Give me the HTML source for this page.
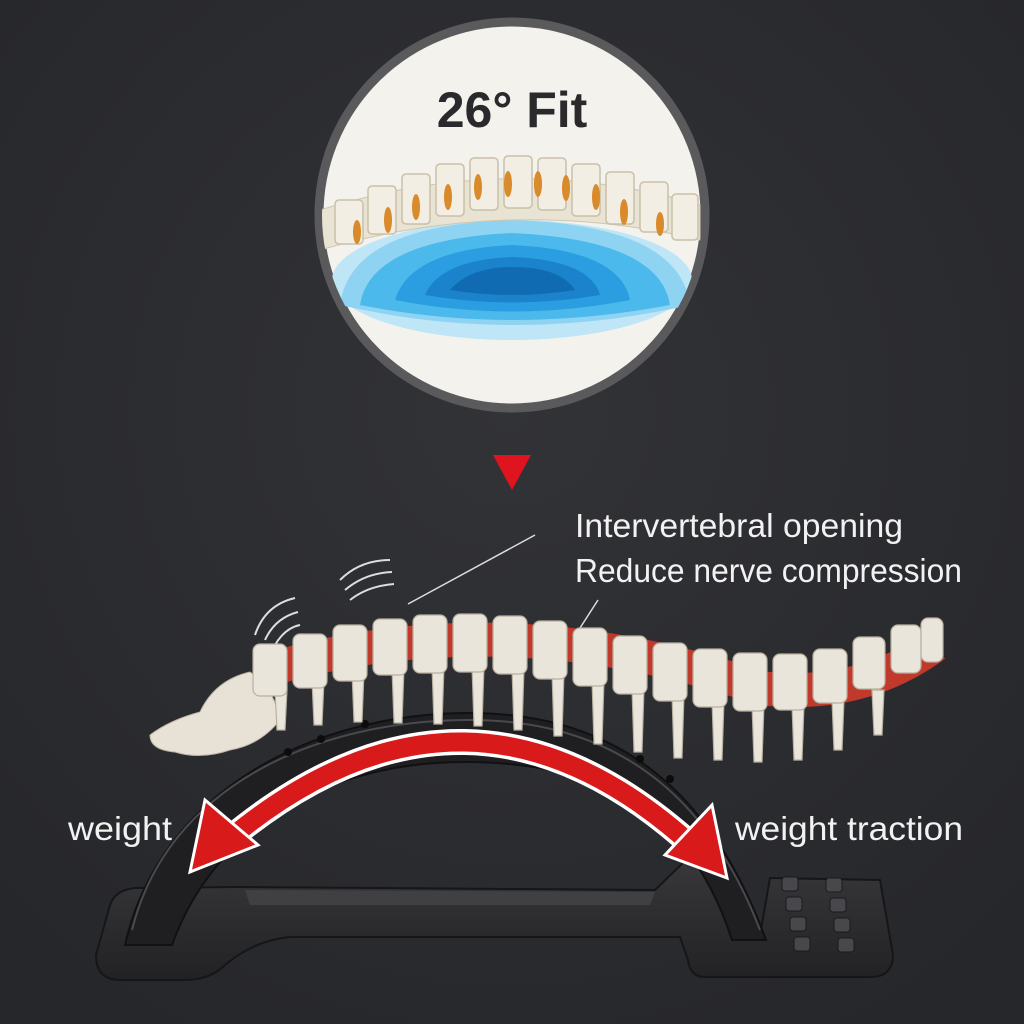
<!DOCTYPE html>
<html><head><meta charset="utf-8">
<style>
html,body{margin:0;padding:0;background:#2b2c30;}
svg{display:block}
text{font-family:"Liberation Sans",sans-serif;}
</style></head>
<body>
<svg width="1024" height="1024" viewBox="0 0 1024 1024" xmlns="http://www.w3.org/2000/svg">
<defs>
<radialGradient id="bg" cx="50%" cy="40%" r="70%"><stop offset="0" stop-color="#323337"/><stop offset="1" stop-color="#26272b"/></radialGradient>
<clipPath id="cc"><circle cx="512" cy="215" r="190"/></clipPath>
<linearGradient id="dev" x1="0" y1="0" x2="0" y2="1"><stop offset="0" stop-color="#38383b"/><stop offset="1" stop-color="#222224"/></linearGradient>
</defs>
<rect width="1024" height="1024" fill="url(#bg)"/>

<!-- circle -->
<circle cx="512" cy="215" r="193" fill="#f4f2ed" stroke="#5a5a5c" stroke-width="9"/>
<g clip-path="url(#cc)">
  <ellipse cx="512" cy="280" rx="180" ry="60" fill="#bfe6f7"/>
  <path d="M340,305 Q350,225 512,220 Q680,225 690,305 Q512,345 340,305Z" fill="#8fd3f2"/>
  <path d="M360,305 Q370,240 512,233 Q660,240 670,305 Q512,335 360,305Z" fill="#4cb9ec"/>
  <path d="M395,300 Q410,250 512,245 Q620,250 630,300 Q512,323 395,300Z" fill="#2a9ee0"/>
  <path d="M425,295 Q440,260 512,257 Q590,260 600,295 Q512,310 425,295Z" fill="#1a83cc"/>
  <path d="M450,290 Q470,267 512,267 Q560,267 575,290 Q512,300 450,290Z" fill="#106bb2"/>
  <path d="M320,210 Q512,150 700,205 L700,240 Q512,195 320,250Z" fill="#e9e3d4" stroke="#cfc6b1"/>
  <g fill="#f3eee3" stroke="#c9c0aa" stroke-width="1.5">
    <rect x="335" y="200" width="28" height="44" rx="4"/>
    <rect x="368" y="186" width="28" height="48" rx="4"/>
    <rect x="402" y="174" width="28" height="50" rx="4"/>
    <rect x="436" y="164" width="28" height="52" rx="4"/>
    <rect x="470" y="158" width="28" height="52" rx="4"/>
    <rect x="504" y="156" width="28" height="52" rx="4"/>
    <rect x="538" y="158" width="28" height="52" rx="4"/>
    <rect x="572" y="164" width="28" height="52" rx="4"/>
    <rect x="606" y="172" width="28" height="52" rx="4"/>
    <rect x="640" y="182" width="28" height="50" rx="4"/>
    <rect x="672" y="194" width="26" height="46" rx="4"/>
  </g>
  <g fill="#d98a2b">
    <ellipse cx="357" cy="232" rx="4" ry="12"/><ellipse cx="388" cy="220" rx="4" ry="13"/>
    <ellipse cx="416" cy="207" rx="4" ry="13"/><ellipse cx="448" cy="197" rx="4" ry="13"/>
    <ellipse cx="478" cy="187" rx="4" ry="13"/><ellipse cx="508" cy="184" rx="4" ry="13"/>
    <ellipse cx="538" cy="184" rx="4" ry="13"/><ellipse cx="566" cy="188" rx="4" ry="13"/>
    <ellipse cx="596" cy="197" rx="4" ry="13"/><ellipse cx="624" cy="212" rx="4" ry="13"/>
    <ellipse cx="660" cy="224" rx="4" ry="12"/>
  </g>
</g>
<text x="512" y="127" text-anchor="middle" font-size="50" font-weight="bold" fill="#2a2a2c">26° Fit</text>

<polygon points="493,455 531,455 512,490" fill="#e0141e"/>

<text x="575" y="537" font-size="33" fill="#f2f2f2" textLength="328" lengthAdjust="spacingAndGlyphs">Intervertebral opening</text>
<text x="575" y="582" font-size="33" fill="#f2f2f2" textLength="387" lengthAdjust="spacingAndGlyphs">Reduce nerve compression</text>
<text x="68" y="840" font-size="33" fill="#f2f2f2" textLength="104" lengthAdjust="spacingAndGlyphs">weight</text>
<text x="735" y="840" font-size="33" fill="#f2f2f2" textLength="228" lengthAdjust="spacingAndGlyphs">weight traction</text>
<line x1="408" y1="604" x2="535" y2="535" stroke="#ddd" stroke-width="1.5"/>
<line x1="580" y1="628" x2="598" y2="600" stroke="#ddd" stroke-width="1.5"/>
<g fill="none" stroke="#ddd" stroke-width="2">
  <path d="M255,635 Q265,605 295,598"/><path d="M265,640 Q275,618 298,612"/><path d="M275,645 Q285,628 300,625"/>
  <path d="M340,580 Q360,560 390,560"/><path d="M345,590 Q365,573 392,572"/><path d="M350,600 Q368,586 394,584"/>
</g>

<!-- device base -->
<path d="M96,955 L110,905 Q115,890 135,888 L240,887 L655,890 L688,858 L722,862 L760,935 L770,878 L880,880 L893,955 Q893,977 870,977 L705,977 Q690,977 688,960 L680,937 L290,937 Q255,940 225,965 Q210,980 185,980 L120,980 Q96,980 96,955 Z" fill="url(#dev)" stroke="#161618" stroke-width="2"/>
<path d="M245,890 L655,892 L650,905 L250,905Z" fill="#404043"/>
<g fill="#48484c" stroke="#1a1a1c" stroke-width="1">
  <rect x="782" y="877" width="16" height="14" rx="3"/><rect x="826" y="878" width="16" height="14" rx="3"/>
  <rect x="786" y="897" width="16" height="14" rx="3"/><rect x="830" y="898" width="16" height="14" rx="3"/>
  <rect x="790" y="917" width="16" height="14" rx="3"/><rect x="834" y="918" width="16" height="14" rx="3"/>
  <rect x="794" y="937" width="16" height="14" rx="3"/><rect x="838" y="938" width="16" height="14" rx="3"/>
</g>
<!-- arch band -->
<path d="M125,945 C160,790 315,713 470,713 C625,713 715,800 766,940 L732,940 C690,810 600,762 465,762 C330,762 215,825 172,945 Z" fill="#1f1f21" stroke="#111113" stroke-width="2"/>
<path d="M132,930 C168,785 318,720 470,720 C620,720 710,800 760,930" fill="none" stroke="#4a4a4e" stroke-width="2"/>
<g fill="#0c0c0d">
  <circle cx="288" cy="752" r="4"/><circle cx="321" cy="739" r="4"/><circle cx="365" cy="724" r="4"/>
  <circle cx="557" cy="723" r="4"/><circle cx="596" cy="739" r="4"/><circle cx="640" cy="759" r="4"/><circle cx="670" cy="779" r="4"/>
</g>

<!-- red arrow -->
<g>
  <path d="M228,840 Q468,640 695,848" fill="none" stroke="#fff" stroke-width="26"/>
  <path d="M228,840 Q468,640 695,848" fill="none" stroke="#d81a1a" stroke-width="19"/>
  <polygon points="190,872 205,800 258,845" fill="#d81a1a" stroke="#fff" stroke-width="3"/>
  <polygon points="727,878 665,855 712,805" fill="#d81a1a" stroke="#fff" stroke-width="3"/>
</g>

<!-- spine -->
<path d="M150,735 Q170,720 200,712 Q215,680 250,672 Q275,690 280,720 Q260,745 230,750 Q200,760 175,752 Q150,750 150,735Z" fill="#e8e2d6" stroke="#bdb5a5"/>
<path d="M260,672 Q500,600 760,688 Q860,700 935,645" fill="none" stroke="#c0392b" stroke-width="34"/>
<g fill="#eae5da" stroke="#b8b0a0" stroke-width="1.2">
  <path d="M275,690 l12,0 l-2,40 l-8,0z"/><path d="M312,680 l12,0 l-2,45 l-8,0z"/><path d="M352,672 l12,0 l-2,50 l-8,0z"/>
  <path d="M392,668 l12,0 l-2,55 l-8,0z"/><path d="M432,666 l12,0 l-2,58 l-8,0z"/><path d="M472,666 l12,0 l-2,60 l-8,0z"/>
  <path d="M512,668 l12,0 l-2,62 l-8,0z"/><path d="M552,672 l12,0 l-2,64 l-8,0z"/><path d="M592,680 l12,0 l-2,64 l-8,0z"/>
  <path d="M632,688 l12,0 l-2,64 l-8,0z"/><path d="M672,694 l12,0 l-2,64 l-8,0z"/><path d="M712,700 l12,0 l-2,60 l-8,0z"/>
  <path d="M752,704 l12,0 l-2,58 l-8,0z"/><path d="M792,705 l12,0 l-2,55 l-8,0z"/><path d="M832,700 l12,0 l-2,50 l-8,0z"/>
  <path d="M872,690 l12,0 l-2,45 l-8,0z"/>
  <rect x="253" y="644" width="34" height="52" rx="7"/><rect x="293" y="634" width="34" height="54" rx="7"/>
  <rect x="333" y="625" width="34" height="56" rx="7"/><rect x="373" y="619" width="34" height="56" rx="7"/>
  <rect x="413" y="615" width="34" height="58" rx="7"/><rect x="453" y="614" width="34" height="58" rx="7"/>
  <rect x="493" y="616" width="34" height="58" rx="7"/><rect x="533" y="621" width="34" height="58" rx="7"/>
  <rect x="573" y="628" width="34" height="58" rx="7"/><rect x="613" y="636" width="34" height="58" rx="7"/>
  <rect x="653" y="643" width="34" height="58" rx="7"/><rect x="693" y="649" width="34" height="58" rx="7"/>
  <rect x="733" y="653" width="34" height="58" rx="7"/><rect x="773" y="654" width="34" height="56" rx="7"/>
  <rect x="813" y="649" width="34" height="54" rx="7"/><rect x="853" y="637" width="32" height="52" rx="7"/>
  <rect x="891" y="625" width="30" height="48" rx="7"/><rect x="921" y="618" width="22" height="44" rx="7"/>
</g>
</svg>
</body></html>
